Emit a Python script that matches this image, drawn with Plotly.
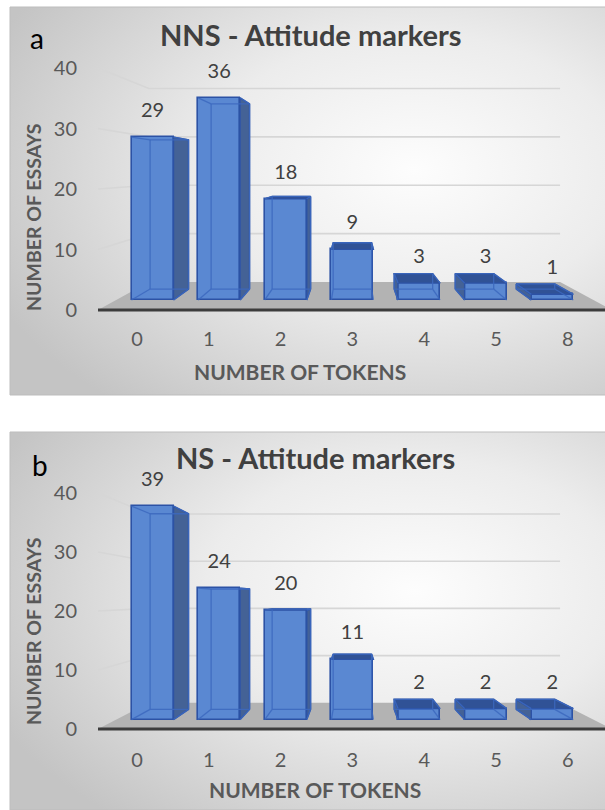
import base64
import plotly.graph_objects as go

# ---------------- data ----------------
nns_tokens = ["0", "1", "2", "3", "4", "5", "8"]
nns_essays = [29, 36, 18, 9, 3, 3, 1]
ns_tokens = ["0", "1", "2", "3", "4", "5", "6"]
ns_essays = [39, 24, 20, 11, 2, 2, 2]
value_ticks = [0, 10, 20, 30, 40]
panel_titles = ["NNS - Attitude markers", "NS - Attitude markers"]
panel_letters = ["a", "b"]
x_axis_title = "NUMBER OF TOKENS"
y_axis_title = "NUMBER OF ESSAYS"

# ---------------- geometry / style ----------------
OFF = 0
SW, SH = 605, 810
FW, FH = SW - OFF, SH - OFF
FONT = "Lato, 'Open Sans', sans-serif"
X0_PIX, X_STEP = 137.0, 71.8          # pixel of category 0 and spacing (label plane)
XV = 3.0                               # horizontal vanishing point (category units)
HW = 0.315                             # half bar width (category units)
S_FRONT, S_BACK, S_WALL = 0.928, 0.85, 0.80
X_LEFT = (98 - X0_PIX) / X_STEP
X_RIGHT = (612 - X0_PIX) / X_STEP

FRONT_COL = "rgb(90,136,210)"
EDGE_COL = "rgb(44,82,165)"
INNER_COL = "rgba(60,105,190,0.85)"
SIDE_COL = "rgb(68,98,150)"
TOP_COL = "rgb(48,82,150)"


def px(x):
    return (x - OFF) / FW


def py(y):
    return 1 - (y - OFF) / FH


panels = [
    dict(tokens=nns_tokens, essays=nns_essays, title=panel_titles[0], letter=panel_letters[0],
         box=(7, 395), y0=310.0, unit=6.05, yv=23.1, xlab_pix=325,
         title_xy=(310, 35), letter_xy=(37, 38), xt_xy=(300, 371), yt_xy=(33, 217)),
    dict(tokens=ns_tokens, essays=ns_essays, title=panel_titles[1], letter=panel_letters[1],
         box=(432, 810), y0=729.0, unit=5.9, yv=22.2, xlab_pix=746,
         title_xy=(315, 457), letter_xy=(40, 465), xt_xy=(315, 789), yt_xy=(33, 631)),
]


def bg_uri(w, h):
    svg = (
        f"<svg xmlns='http://www.w3.org/2000/svg' width='{w}' height='{h}' viewBox='0 0 {w} {h}' preserveAspectRatio='none'>"
        "<defs><radialGradient id='g' cx='0.68' cy='0.42' r='0.78'>"
        "<stop offset='0' stop-color='#fdfdfd'/>"
        "<stop offset='0.45' stop-color='#ececec'/>"
        "<stop offset='1' stop-color='#c4c4c4'/>"
        "</radialGradient></defs>"
        f"<rect x='0' y='0' width='{w}' height='{h}' fill='url(#g)'/></svg>"
    )
    return "data:image/svg+xml;base64," + base64.b64encode(svg.encode()).decode()


fig = go.Figure()
shapes, annotations, images = [], [], []
layout_axes = {}

for k, pn in enumerate(panels):
    xa = "x" if k == 0 else f"x{k+1}"
    ya = "y" if k == 0 else f"y{k+1}"
    xkey = "xaxis" if k == 0 else f"xaxis{k+1}"
    ykey = "yaxis" if k == 0 else f"yaxis{k+1}"
    top, bot = pn["box"]
    y0, unit, yv = pn["y0"], pn["unit"], pn["yv"]

    def P(X, Y, s, yv=yv):
        return XV + (X - XV) * s, yv + (Y - yv) * s

    # axes
    layout_axes[xkey] = dict(
        domain=[0, 1], range=[(OFF - X0_PIX) / X_STEP, (SW - X0_PIX) / X_STEP],
        anchor="free", position=py(pn["xlab_pix"]),
        tickmode="array", tickvals=list(range(len(pn["tokens"]))), ticktext=pn["tokens"],
        showgrid=False, zeroline=False, showline=False, ticks="",
        tickfont=dict(family=FONT, size=20, color="#595959"), fixedrange=True,
    )
    layout_axes[ykey] = dict(
        domain=[max(0, py(bot)), min(1, py(top))], range=[(y0 - bot) / unit, (y0 - top) / unit],
        anchor="free", position=px(77),
        tickmode="array", tickvals=value_ticks,
        showgrid=False, zeroline=False, showline=False, ticks="",
        tickfont=dict(family=FONT, size=20, color="#595959"), fixedrange=True,
    )

    # background box
    images.append(dict(source=bg_uri(SW - 10, bot - top), xref="paper", yref="paper",
                       x=px(10), y=py(top), sizex=(SW - 10) / FW, sizey=(bot - top) / FH,
                       sizing="stretch", xanchor="left", yanchor="top", layer="below"))
    shapes.append(dict(type="rect", xref="paper", yref="paper", x0=px(10), x1=1.2,
                       y0=py(bot), y1=py(top), line=dict(color="#bdbdbd", width=1),
                       fillcolor="rgba(0,0,0,0)", layer="below"))

    # back-wall gridlines
    for t in value_ticks[1:]:
        a = P(X_LEFT, t, 1.0)
        b = P(X_LEFT, t, S_WALL)
        c = P(X_RIGHT, t, S_WALL)
        shapes.append(dict(type="path", xref=xa, yref=ya, layer="below",
                           path=f"M{a[0]},{a[1]} L{b[0]},{b[1]} L{c[0]},{c[1]}",
                           line=dict(color="#d6d6d6", width=1.6)))
    # floor
    f1, f2 = P(X_LEFT, 0, 1.0), P(X_RIGHT, 0, 1.0)
    f3, f4 = P(X_RIGHT, 0, S_WALL), P(X_LEFT, 0, S_WALL)
    shapes.append(dict(type="path", xref=xa, yref=ya, layer="below",
                       path=f"M{f1[0]},{f1[1]} L{f2[0]},{f2[1]} L{f3[0]},{f3[1]} L{f4[0]},{f4[1]} Z",
                       fillcolor="#b3b3b3", line=dict(width=0)))
    shapes.append(dict(type="line", xref=xa, yref=ya, layer="below",
                       x0=f1[0], y0=f1[1], x1=f2[0], y1=f2[1],
                       line=dict(color="#3c3c3c", width=3)))

    n = len(pn["essays"])
    idx = list(range(n))
    base_y = P(0, 0, S_FRONT)[1]

    # front faces as bars
    fig.add_trace(go.Bar(
        x=[P(i, 0, S_FRONT)[0] for i in idx], y=[v * S_FRONT for v in pn["essays"]],
        base=[base_y] * n, width=2 * HW * S_FRONT,
        marker=dict(color=FRONT_COL, line=dict(color=EDGE_COL, width=1.6)),
        xaxis=xa, yaxis=ya, hoverinfo="skip", showlegend=False,
    ))

    # side / top faces and see-through edges
    ex, ey = [], []
    for i, v in zip(idx, pn["essays"]):
        c = {}
        for nm, X, Y, s in [("flb", i - HW, 0, S_FRONT), ("frb", i + HW, 0, S_FRONT),
                            ("frt", i + HW, v, S_FRONT), ("flt", i - HW, v, S_FRONT),
                            ("blb", i - HW, 0, S_BACK), ("brb", i + HW, 0, S_BACK),
                            ("brt", i + HW, v, S_BACK), ("blt", i - HW, v, S_BACK)]:
            c[nm] = P(X, Y, s)
        faces = []
        if i + HW < XV:
            faces.append((["frb", "brb", "brt", "frt"], SIDE_COL))
        elif i - HW > XV:
            faces.append((["flb", "blb", "blt", "flt"], SIDE_COL))
        if v < yv:
            faces.append((["flt", "frt", "brt", "blt"], TOP_COL))
        for names, col in faces:
            fig.add_trace(go.Scatter(
                x=[c[q][0] for q in names + names[:1]], y=[c[q][1] for q in names + names[:1]],
                mode="lines", fill="toself", fillcolor=col, line=dict(color=EDGE_COL, width=1.4),
                xaxis=xa, yaxis=ya, hoverinfo="skip", showlegend=False,
            ))
        for a, b in [("blb", "brb"), ("brb", "brt"), ("brt", "blt"), ("blt", "blb"),
                     ("flb", "blb"), ("frb", "brb"), ("frt", "brt"), ("flt", "blt")]:
            ex += [c[a][0], c[b][0], None]
            ey += [c[a][1], c[b][1], None]
    fig.add_trace(go.Scatter(x=ex, y=ey, mode="lines", line=dict(color=INNER_COL, width=1.3),
                             xaxis=xa, yaxis=ya, hoverinfo="skip", showlegend=False))

    # data labels
    fig.add_trace(go.Scatter(
        x=[P(i, v, S_FRONT)[0] for i, v in zip(idx, pn["essays"])],
        y=[P(i, v, S_FRONT)[1] + 25 / unit for i, v in zip(idx, pn["essays"])],
        mode="text", text=[str(v) for v in pn["essays"]],
        textfont=dict(family=FONT, size=20, color="#404040"),
        xaxis=xa, yaxis=ya, hoverinfo="skip", showlegend=False,
    ))

    # texts
    tx, ty = pn["title_xy"]
    annotations.append(dict(text=f"<b>{pn['title']}</b>", x=px(tx), y=py(ty), xref="paper", yref="paper",
                            showarrow=False, xanchor="center", yanchor="middle",
                            font=dict(family=FONT, size=29, color="#404040")))
    lx, ly = pn["letter_xy"]
    annotations.append(dict(text=pn["letter"], x=px(lx), y=py(ly), xref="paper", yref="paper",
                            showarrow=False, xanchor="center", yanchor="middle",
                            font=dict(family=FONT, size=28, color="#000000")))
    xtx, xty = pn["xt_xy"]
    annotations.append(dict(text=f"<b>{x_axis_title}</b>", x=px(xtx), y=py(xty), xref="paper", yref="paper",
                            showarrow=False, xanchor="center", yanchor="middle",
                            font=dict(family=FONT, size=21, color="#595959")))
    ytx, yty = pn["yt_xy"]
    annotations.append(dict(text=f"<b>{y_axis_title}</b>", x=px(ytx), y=py(yty), xref="paper", yref="paper",
                            showarrow=False, xanchor="center", yanchor="middle", textangle=-90,
                            font=dict(family=FONT, size=19.5, color="#595959")))

fig.update_layout(
    width=FW, height=FH, margin=dict(l=0, r=0, t=0, b=0),
    paper_bgcolor="white", plot_bgcolor="rgba(0,0,0,0)",
    showlegend=False, bargap=0, shapes=shapes, annotations=annotations, images=images,
    **layout_axes,
)

fig.write_html("out.html", config={"displayModeBar": False},
               post_script="document.body.style.margin='0px';")
